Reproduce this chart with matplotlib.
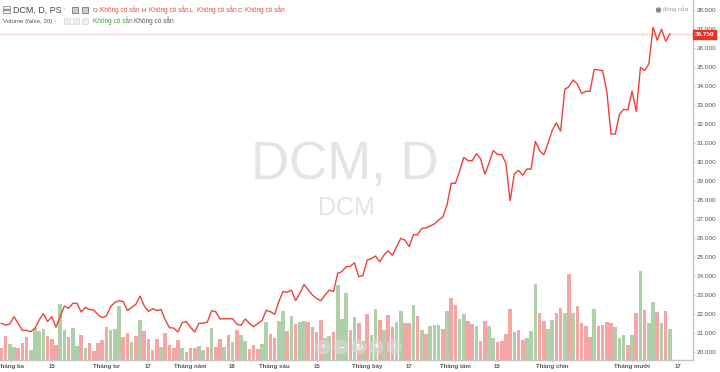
import matplotlib
matplotlib.use("Agg")
import matplotlib.pyplot as plt
from matplotlib.patches import Ellipse, Rectangle

plt.rcParams['font.family'] = ['Liberation Sans', 'DejaVu Sans']

W, H = 720, 372

# gia dong cua
close_values = [
    21.51, 21.42, 21.47, 21.86, 21.51, 21.14, 21.14, 21.07, 21.25, 21.68,
    22.02, 21.60, 21.86, 21.30, 21.86, 22.42, 22.30, 22.56, 22.56, 22.10,
    22.35, 22.23, 22.21, 21.95, 21.81, 21.90, 22.39, 22.61, 22.70, 22.65,
    22.18, 22.35, 22.51, 22.95, 22.42, 22.14, 22.28, 22.18, 22.23, 21.68,
    21.28, 21.26, 21.05, 21.54, 21.60, 21.30, 21.05, 21.51, 21.51, 21.58,
    22.17, 22.12, 21.74, 21.75, 21.75, 21.75, 21.47, 21.40, 21.74, 21.51,
    21.33, 21.51, 21.65, 22.19, 22.12, 21.98, 22.65, 23.18, 23.14, 23.26,
    22.70, 23.09, 23.56, 23.26, 23.00, 22.81, 22.70, 23.00, 23.26, 23.18,
    24.14, 24.23, 24.49, 24.51, 24.70, 23.96, 24.03, 24.84, 24.91, 25.05,
    24.74, 25.10, 25.33, 25.09, 25.54, 25.98, 25.89, 25.54, 26.17, 26.17,
    26.51, 26.53, 26.63, 26.74, 26.95, 27.10, 27.74, 28.88, 28.88, 29.53,
    30.25, 30.07, 30.07, 30.44, 30.17, 29.35, 29.96, 30.60, 30.40, 30.39,
    29.93, 27.95, 29.37, 29.56, 29.30, 29.63, 29.63, 31.10, 30.60, 30.37,
    30.98, 31.65, 32.07, 31.61, 33.82, 33.96, 34.32, 34.10, 33.61, 33.72,
    33.72, 34.88, 34.84, 34.81, 33.70, 31.47, 31.47, 32.51, 32.77, 32.74,
    33.74, 32.65, 34.98, 34.81, 35.16, 37.10, 36.40, 37.00, 36.35, 36.75,
]

# khoi luong (khong co thang do, doc tuong doi)
volume_values = [
    12.3, 24, 16, 13, 12.3, 17.3, 22.7, 10, 32, 29,
    31, 24, 21.3, 14.7, 56.3, 30, 23, 32, 14, 25,
    12, 17, 9, 17, 19.7, 32.7, 30.3, 30.7, 54.3, 23,
    26.7, 18, 24, 39.7, 29.3, 21, 10, 21.3, 13, 26.7,
    15, 12, 20, 12.3, 7.7, 12, 12, 14, 10.3, 13,
    32.3, 13.3, 20.7, 13.3, 25.3, 17.7, 29.7, 25.3, 19, 11,
    15, 11, 16, 38, 26.3, 22.3, 39, 49, 28.7, 44,
    36.3, 37.7, 39, 38, 33.3, 27.7, 40, 21.7, 24, 28,
    74.7, 40.7, 67, 29.7, 43, 37, 19, 46.3, 25.3, 50.7,
    39.7, 30, 45, 32.7, 38, 49.3, 37, 37.3, 54.7, 44,
    29.7, 26, 33.7, 34.7, 34.7, 31, 49, 62, 55, 41.3,
    46.3, 39, 36, 34, 19, 39, 34, 22, 17.7, 19,
    26, 51, 28, 29.7, 20, 22, 28.7, 75.7, 46.7, 39.3,
    31, 40, 47.3, 51.7, 46.7, 86.3, 47.3, 53.7, 37, 34,
    23.3, 51, 34, 35.3, 37.7, 37, 32.7, 22, 25.3, 15,
    25, 47.3, 89, 50, 37, 58.3, 47.7, 37, 49, 30.7,
]

# r = giam, g = tang
volume_dirs = (
    "rrggrrrggg" "grrrggrggr" "grrrrrgggr" "rgrgrrrrgr"
    "rrrgrrrggr" "grrgrgrggr" "rrggrrggrg" "rggrrrrggr"
    "gggrgrgrgg" "rgrrggrrgr" "grgggrgrrg" "grrgrrggrr"
    "rrgrrgggrr" "ggrrgrgrrr" "rgrrrrgggr" "grgrggrgrg"
)

last_price = 36.75
price_ticks = list(range(20, 39))
price_labels = [f"{p}.000" for p in price_ticks]

date_ticks = [2.3, 12, 25, 35, 45, 55, 65, 75, 87, 97, 108, 118, 131, 150, 161]
date_labels = ["Tháng ba", "15", "Tháng tư", "17", "Tháng năm", "18", "Tháng sáu", "15",
               "Tháng bảy", "17", "Tháng tám", "15", "Tháng chín", "Tháng mười", "17"]


def fx(x):
    return x / W


def fy(y):
    return 1 - y / H


def label(x, y, s, color="#555555", size=4.6, **kw):
    fig.text(fx(x), fy(y), s, color=color, fontsize=size, va="center", **kw)


bar_colors = ["#f5a6a4" if d == "r" else "#aecfa8" for d in volume_dirs]
xs = list(range(len(close_values)))

fig = plt.figure(figsize=(W / 100, H / 100), dpi=100)
rect = [0, (H - 360) / H, 693 / W, 360 / H]

# thang do: 1 don vi gia = 19px, 1 don vi chi so = 4.205px
xlim = (-1.3 / 4.205, (693 - 1.3) / 4.205)

ax_vol = fig.add_axes(rect, facecolor="none")
ax_vol.bar(xs, volume_values, width=0.86, color=bar_colors, linewidth=0)
ax_vol.set_xlim(xlim)
ax_vol.set_ylim(0, 360)
ax_vol.axis("off")

ax = fig.add_axes(rect, facecolor="none")
ax.axhline(last_price, color="#fbd9d7", linewidth=1.0)
ax.plot(xs, close_values, color="#ef4136", linewidth=1.0, solid_joinstyle="miter")
ax.set_xlim(xlim)
ax.set_ylim(20 - 8 / 19, 38 + 10 / 19)

ax.yaxis.tick_right()
ax.set_yticks(price_ticks)
ax.set_yticklabels(price_labels)
ax.set_xticks(date_ticks)
ax.set_xticklabels(date_labels, fontweight="bold")
ax.tick_params(axis="y", length=1.5, width=0.5, color="#b0b0b0", labelcolor="#555555", labelsize=4.6, pad=1)
ax.tick_params(axis="x", length=1.5, width=0.5, color="#b0b0b0", labelcolor="#555555", labelsize=4.4, pad=1.2)
for side in ("top", "left"):
    ax.spines[side].set_visible(False)
for side in ("right", "bottom"):
    ax.spines[side].set_color("#c4c4c4")
    ax.spines[side].set_linewidth(1.0)

# chu chim
fig.text(fx(345), fy(165), "DCM, D", color="#e4e4e4", fontsize=38, ha="center", va="center", zorder=-1)
fig.text(fx(346), fy(208), "DCM", color="#e4e4e4", fontsize=18, ha="center", va="center", zorder=-1)

# nhan gia cuoi
fig.patches.append(Rectangle((fx(693), fy(38.5)), 23 / W, 9 / H, transform=fig.transFigure, color="#ea3323", zorder=5))
label(704.5, 34, "36.750", color="white", size=4.6, ha="center", fontweight="bold", zorder=6)

# dong cua
fig.patches.append(Ellipse((fx(658.5), fy(10)), 4 / W, 4 / H, transform=fig.transFigure, color="#8a8a8a"))
label(663, 9.5, "đóng cửa", color="#999999", size=4.3)

# chu giai phia tren
fig.patches.append(Rectangle((fx(3), fy(13)), 7 / W, 7 / H, transform=fig.transFigure, facecolor="none", edgecolor="#999999", linewidth=0.7))
fig.patches.append(Rectangle((fx(3), fy(10)), 7 / W, 0.6 / H, transform=fig.transFigure, color="#999999"))
label(13, 10, "DCM, D, PS", color="#444444", size=6.4)
label(63, 10, "˅", color="#aaaaaa", size=3.5)
for bx in (72, 82):
    fig.patches.append(Rectangle((fx(bx), fy(13)), 6 / W, 6 / H, transform=fig.transFigure, facecolor="#cccccc", edgecolor="#777777", linewidth=0.6))

vals = "Không có sẵn"
for ox, x, ltr in [(93, 100, "O"), (141, 149, "H"), (190, 197, "L"), (238, 245, "C")]:
    label(ox, 10, ltr, color="#555555", size=4.4)
    label(x, 10, vals, color="#f0463c", size=4.7)

label(3, 21, "Volume (false, 20)", color="#555555", size=4.4)
label(54, 21, "˅", color="#aaaaaa", size=3.5)
for bx in (64, 73, 82):
    fig.patches.append(Rectangle((fx(bx), fy(24)), 6 / W, 6 / H, transform=fig.transFigure, facecolor="#eeeeee", edgecolor="#dddddd", linewidth=0.6))
label(93, 21, vals, color="#3f9a3f", size=4.7)
label(134, 21, vals, color="#555555", size=4.7)

# nut dieu huong
for bx, glyph in zip((323, 341, 359, 376, 394), ("‹", "−", "↻", "+", "›")):
    fig.patches.append(Ellipse((fx(bx), fy(347)), 13.5 / W, 13.5 / H, transform=fig.transFigure,
                               color="#d8d8d8", alpha=0.65, zorder=6))
    fig.text(fx(bx), fy(347), glyph, color="white", fontsize=6.5, ha="center", va="center", zorder=7,
             fontweight="bold")

fig.savefig("out.png", dpi=100)
